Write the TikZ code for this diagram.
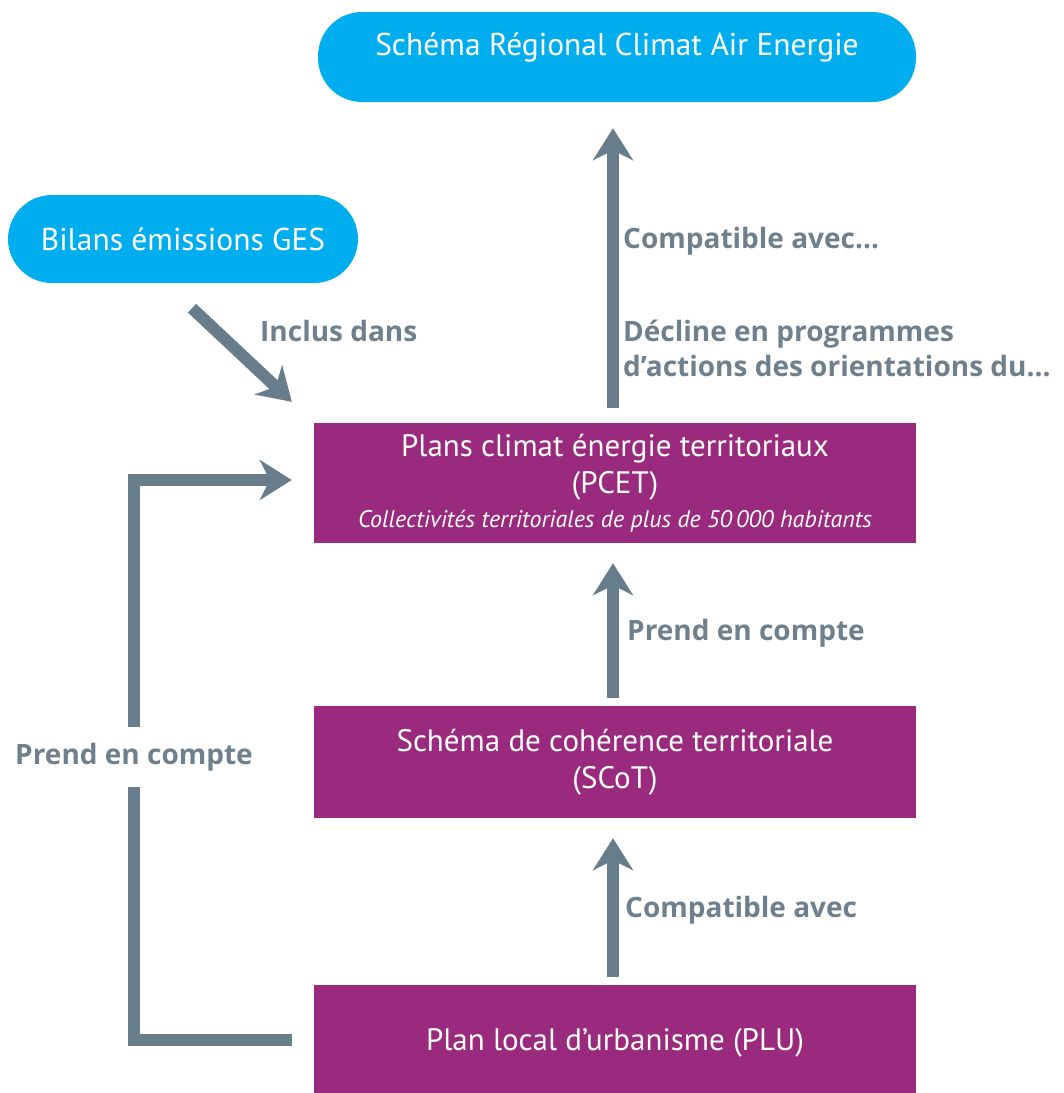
\documentclass[tikz,border=0pt]{standalone}
\usepackage{fontspec}
\setmainfont{PT Sans}
\newfontfamily\labfont{Open Sans}
\usetikzlibrary{arrows.meta,calc}
\definecolor{cyanbox}{HTML}{00AEEF}
\definecolor{purplebox}{HTML}{9A2A7D}
\definecolor{greyarrow}{HTML}{687D8C}
\definecolor{greytext}{HTML}{6E808E}
\tikzset{
  bluebox/.style={fill=cyanbox, rounded corners=44pt, text=white, align=center, inner sep=0pt, font=\fontsize{31.5}{37}\selectfont},
  purplebox/.style={fill=purplebox, text=white, align=center, inner sep=0pt, font=\fontsize{31}{37}\selectfont},
  arr/.style={draw=greyarrow, line width=12pt, -{Stealth[length=32pt, width=40pt, inset=10pt]}},
  lab/.style={text=greytext, font=\labfont\bfseries\fontsize{28}{35}\selectfont, inner sep=0pt, align=left},
}
\begin{document}
\begin{tikzpicture}[x=1pt,y=-1pt]
\useasboundingbox (0,0) rectangle (1064,1093);
\clip (0,0) rectangle (1064,1093);
\node[bluebox, minimum width=598pt, minimum height=90pt, text height=23pt, text depth=26pt] (srcae) at (617,57) {Schéma Régional Climat Air Energie};
\node[bluebox, minimum width=350pt, minimum height=88pt] (bilans) at (183,239) {Bilans émissions GES};
\node[purplebox, minimum width=602pt, minimum height=120pt] (pcet) at (615,483) {Plans climat énergie territoriaux\\(PCET)\\[-3pt]{\itshape\fontsize{24}{28}\selectfont Collectivités territoriales de plus de 50\,000 habitants}};
\node[purplebox, minimum width=602pt, minimum height=112pt] (scot) at (615,762) {Schéma de cohérence territoriale\\(SCoT)};
\node[purplebox, minimum width=602pt, minimum height=116pt] (plu) at (615,1043) {Plan local d’urbanisme (PLU)};

% arrows
\draw[arr, shorten <=15pt, shorten >=26pt] ([xshift=-2pt]pcet.north) -- ([xshift=-4pt]srcae.south);
\draw[arr, shorten <=8pt, shorten >=20pt] ([xshift=-2pt]scot.north) -- ([xshift=-2pt]pcet.south);
\draw[arr, shorten <=8pt, shorten >=20pt] ([xshift=-2pt]plu.north) -- ([xshift=-2pt]scot.south);
\draw[arr] ([xshift=9pt,yshift=-25pt]bilans.south) -- ([xshift=-22pt,yshift=21pt]pcet.north west);
\draw[arr, line join=miter] ([xshift=-22pt,yshift=3pt]plu.west) -| ([xshift=-180pt,yshift=3pt]pcet.west) -- ([xshift=-22pt,yshift=3pt]pcet.west);

% labels
\node[lab, anchor=west] (l1) at (623,241) {Compatible avec...};
\node[lab, anchor=west] (l2) at (623,348) {Décline en programmes\\d’actions des orientations du...};
\node[lab, anchor=west] (l3) at (260,331) {Inclus dans};
\node[lab, anchor=west] (l4) at (627,633) {Prend en compte};
\node[lab, anchor=west] (l5) at (625,910) {Compatible avec};
\node[lab, fill=white, inner xsep=2pt, inner ysep=16pt] (l6) at (134,757) {Prend en compte};
\end{tikzpicture}
\end{document}
